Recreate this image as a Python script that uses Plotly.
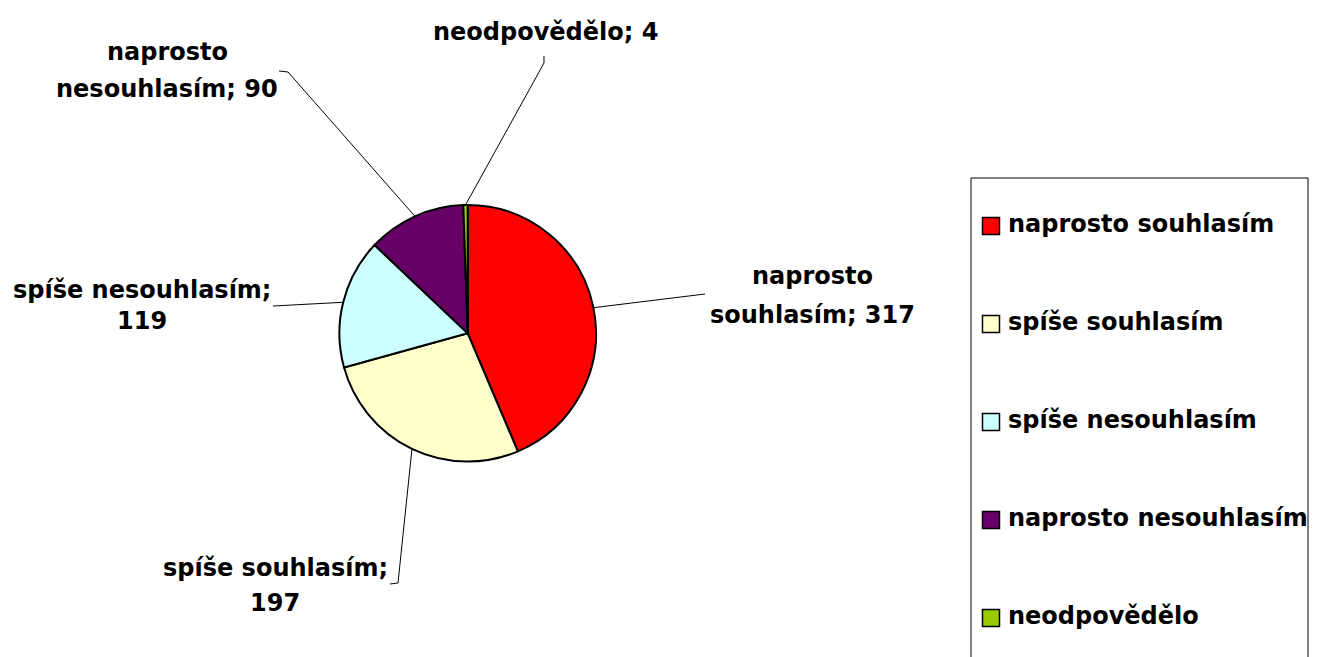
import math
import plotly.graph_objects as go

# ------------------------- DATA -------------------------
kategorie = ["naprosto souhlasím", "spíše souhlasím", "spíše nesouhlasím",
             "naprosto nesouhlasím", "neodpovědělo"]
pocty = [317, 197, 119, 90, 4]
barvy = ["#FF0000", "#FFFFCC", "#CCFFFF", "#660066", "#99CC00"]
# how many words of "label; value" go on the first line of each data label
zalom = [1, 2, 2, 1, 3]

# ------------------------- LAYOUT (window pixels) -------------------------
W, H = 1317, 657
OFF = 8                      # page body margin in the browser
FW, FH = W - OFF, H - OFF    # figure size
CX, CY, R = 467.7, 333.3, 128.3
FONT = "DejaVu Sans"
FS = 24

# label centre x, first line y, second line y
popisky_pos = [(812, 276, 315), (275, 568, 603), (142, 290, 321), (167, 52, 89), (545, 32, None)]
# leader line points after the slice edge
vodici_konce = [[(705, 294)], [(398, 583), (390, 584)], [(273, 306)],
                [(288, 72), (279, 71)], [(544, 63), (544, 56)]]

LEG_X0, LEG_X1, LEG_TOP = 971, 1308, 178
LEG_ROW0, LEG_STEP = 226, 98
LEG_MARK_X, LEG_TEXT_X = 991, 1008


def px(x, y):
    return (x - OFF) / FW, 1 - (y - OFF) / FH


fig = go.Figure()

# ------------------------- KOLÁČ -------------------------
dx0, dy1 = px(CX - R, CY - R)
dx1, dy0 = px(CX + R, CY + R)
fig.add_trace(go.Pie(
    labels=kategorie,
    values=pocty,
    sort=False,
    direction="clockwise",
    rotation=0,
    textinfo="none",
    hoverinfo="label+value",
    showlegend=False,
    marker=dict(colors=barvy, line=dict(color="black", width=2)),
    domain=dict(x=[dx0, dx1], y=[dy0, dy1]),
))

# ------------------------- POPISKY + VODICÍ ČÁRY -------------------------
celkem = sum(pocty)
start = 0
shapes = []
annotations = []
for i, (kat, n) in enumerate(zip(kategorie, pocty)):
    uhel = math.radians((start + n / 2) / celkem * 360)
    start += n
    bod = (CX + R * math.sin(uhel), CY - R * math.cos(uhel))
    body = [bod] + vodici_konce[i]
    path = ""
    for j, (x, y) in enumerate(body):
        xp, yp = px(x, y)
        path += ("M" if j == 0 else " L") + f" {xp:.5f} {yp:.5f}"
    shapes.append(dict(type="path", path=path, xref="paper", yref="paper",
                       line=dict(color="black", width=1)))

    slova = f"{kat}; {n}".split(" ")
    radky = [" ".join(slova[:zalom[i]]), " ".join(slova[zalom[i]:])]
    cx, y1, y2 = popisky_pos[i]
    for txt, yy in zip(radky, [y1, y2]):
        if not txt or yy is None:
            continue
        xp, yp = px(cx, yy)
        annotations.append(dict(
            text=txt, x=xp, y=yp, xref="paper", yref="paper",
            xanchor="center", yanchor="middle", showarrow=False,
            font=dict(family=FONT, size=FS, color="black", weight="bold"),
        ))

# ------------------------- LEGENDA -------------------------
idx = list(range(len(kategorie)))
fig.add_trace(go.Scatter(
    x=[LEG_MARK_X] * len(idx), y=idx, mode="markers",
    marker=dict(symbol="square", size=17, color=barvy, line=dict(color="black", width=1.5)),
    hoverinfo="skip", showlegend=False, cliponaxis=True,
))
fig.add_trace(go.Scatter(
    x=[LEG_TEXT_X] * len(idx), y=idx, mode="text", text=kategorie,
    textposition="middle right",
    textfont=dict(family=FONT, size=FS, color="black", weight="bold"),
    hoverinfo="skip", showlegend=False, cliponaxis=True,
))
shapes.append(dict(type="rect", xref="x domain", yref="y domain",
                   x0=0, x1=1, y0=-0.05, y1=1, line=dict(color="black", width=1)))

lx0, ly1 = px(LEG_X0, LEG_TOP)
lx1, _ = px(LEG_X1, H)
fig.update_layout(
    width=FW, height=FH,
    margin=dict(l=0, r=0, t=0, b=0),
    paper_bgcolor="white",
    plot_bgcolor="white",
    shapes=shapes,
    annotations=annotations,
    xaxis=dict(domain=[lx0, lx1], range=[LEG_X0, LEG_X1],
               visible=False, fixedrange=True),
    yaxis=dict(domain=[0, ly1],
               range=[(H - LEG_ROW0) / LEG_STEP, (LEG_TOP - LEG_ROW0) / LEG_STEP],
               visible=False, fixedrange=True),
)

fig.write_html("out.html")
